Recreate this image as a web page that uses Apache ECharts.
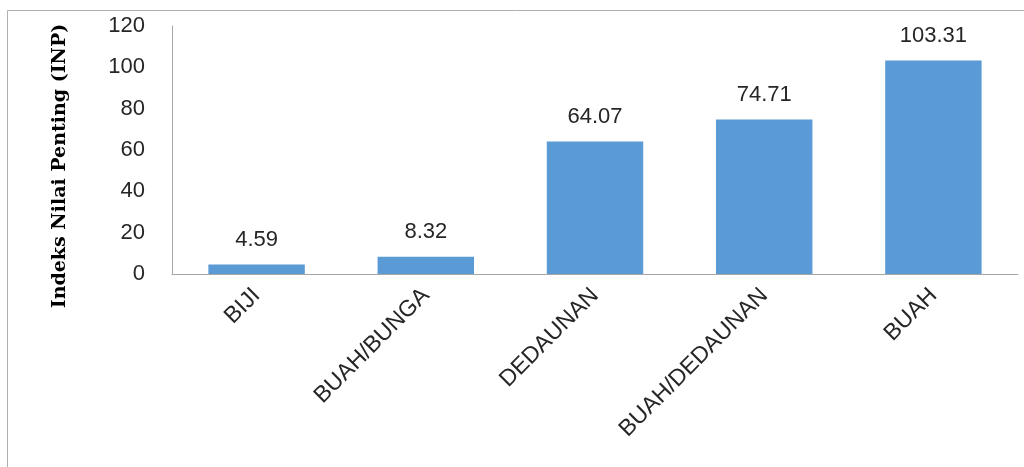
<!DOCTYPE html>
<html>
<head>
<meta charset="utf-8">
<script src="https://cdn.jsdelivr.net/npm/echarts@6/dist/echarts.min.js"></script>
<style>
  html, body { margin: 0; padding: 0; background: #fff; }
  #chart { width: 1024px; height: 467px; }
</style>
</head>
<body>
<div id="chart"></div>
<script>
// data
const categories = ['BIJI', 'BUAH/BUNGA', 'DEDAUNAN', 'BUAH/DEDAUNAN', 'BUAH'];
const inpValues = [4.59, 8.32, 64.07, 74.71, 103.31];
const yTitle = 'Indeks Nilai Penting (INP)';

const chart = echarts.init(document.getElementById('chart'));

const option = {
  animation: false,
  grid: { left: 172, right: 6, top: 26, bottom: 193 },
  xAxis: {
    type: 'category',
    data: categories,
    axisTick: { show: false },
    axisLine: { lineStyle: { color: '#A6A6A6', width: 1 } },
    axisLabel: {
      interval: 0,
      rotate: 45,
      margin: 18,
      color: '#262626',
      fontFamily: 'Liberation Sans',
      fontSize: 23
    }
  },
  yAxis: {
    type: 'value',
    min: 0,
    max: 120,
    interval: 20,
    splitLine: { show: false },
    axisTick: { show: false },
    axisLine: { show: true, lineStyle: { color: '#A6A6A6', width: 1 } },
    axisLabel: {
      margin: 27,
      color: '#262626',
      fontFamily: 'Liberation Sans',
      fontSize: 22
    }
  },
  series: [{
    type: 'bar',
    data: inpValues,
    barWidth: '57%',
    itemStyle: { color: '#5B9BD5' },
    label: {
      show: true,
      position: 'top',
      distance: 14,
      color: '#262626',
      fontFamily: 'Liberation Sans',
      fontSize: 22
    }
  }],
  graphic: [
    {
      type: 'rect',
      silent: true,
      shape: { x: 7.5, y: 10.5, width: 1100, height: 470 },
      style: { fill: null, stroke: '#B0B0B0', lineWidth: 1 }
    },
    {
      type: 'text',
      x: 60,
      y: 166,
      rotation: Math.PI / 2,
      style: {
        text: yTitle,
        fill: '#000',
        font: 'bold 19px "DejaVu Serif"',
        textAlign: 'center',
        textVerticalAlign: 'middle'
      }
    }
  ]
};

chart.setOption(option);
</script>
</body>
</html>
